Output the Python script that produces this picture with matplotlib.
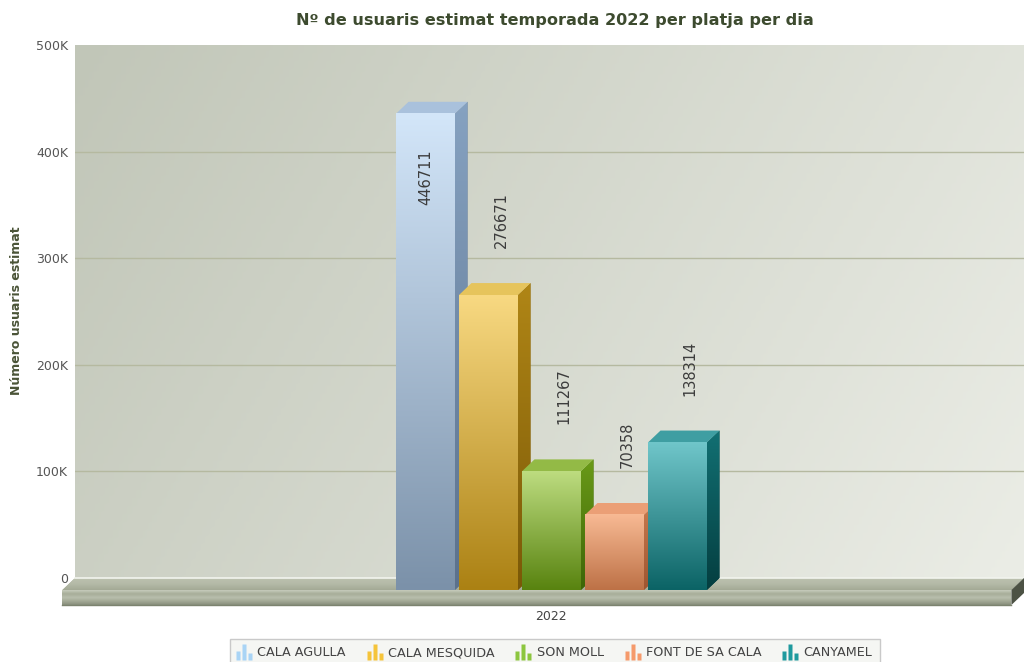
import numpy as np
import matplotlib
matplotlib.use("Agg")
import matplotlib.pyplot as plt
from matplotlib.colors import LinearSegmentedColormap
from matplotlib.patches import Polygon
from matplotlib.path import Path
from matplotlib.lines import Line2D
from matplotlib.transforms import Affine2D

# ---- data ----
title = "Nº de usuaris estimat temporada 2022 per platja per dia"
ylabel = "Número usuaris estimat"
group = "2022"
platges = ["CALA AGULLA", "CALA MESQUIDA", "SON MOLL", "FONT DE SA CALA", "CANYAMEL"]
usuaris = [446711, 276671, 111267, 70358, 138314]
yticks = [0, 100000, 200000, 300000, 400000, 500000]
yticklabels = ["0", "100K", "200K", "300K", "400K", "500K"]

# colours per series
front_top = ["#d3e6f9", "#f8d982", "#bddc80", "#f8ba94", "#70c6ca"]
front_bot = ["#7b91a9", "#ab8113", "#58830f", "#bd7146", "#0b6365"]
side_top = ["#86a2c1", "#b08616", "#6a9a18", "#c97b4f", "#127073"]
side_bot = ["#5b718c", "#7a5807", "#3d6507", "#9d5530", "#043e40"]
top_face = ["#a9c1dc", "#e6c45c", "#93ba46", "#eb9f76", "#3f9ea2"]
icon_col = ["#a9d4f5", "#f5c43a", "#8cc63f", "#f59a6b", "#1e9a9e"]

fig = plt.figure(figsize=(10.24, 6.62), dpi=100)
fig.patch.set_facecolor("white")

# back wall axes (pixels 75..1024 x, 45..578 y)
ax = fig.add_axes([75 / 1024, (662 - 578) / 662, (1024 - 75) / 1024, 533 / 662])
xmin, xmax = -7.762, 7.302
ymax = 500000
upp = ymax / 533.0          # y units per pixel
dx = 0.2                    # depth in x (bar slots)
dy = 12 * upp               # depth in y
w = 0.936


def grad_image(extent, c1, c2, clip=None, z=1, colors=None):
    cmap = LinearSegmentedColormap.from_list("g", colors if colors else [c2, c1])
    g = np.linspace(0, 1, 256).reshape(-1, 1)
    im = ax.imshow(g, extent=extent, origin="lower", aspect="auto",
                   cmap=cmap, zorder=z, interpolation="bicubic")
    if clip is not None:
        im.set_clip_path(clip)
        im.set_clip_box(fig.bbox)
    else:
        im.set_clip_on(False)
    return im


# back wall gradient
xx, yy = np.meshgrid(np.linspace(0, 1, 200), np.linspace(0, 1, 200))
t = 0.75 * xx + 0.25 * (1 - yy)
wall = LinearSegmentedColormap.from_list("wall", ["#c1c6b8", "#ebede6"])
ax.imshow(t, extent=[xmin, xmax, 0, ymax], origin="lower", aspect="auto",
          cmap=wall, zorder=0)

for v in yticks[1:-1]:
    ax.axhline(v, color="#b5b9a0", lw=1.0, zorder=0.5)

# floor
fb = -27 * upp
floor_top = Polygon([(xmin, 0), (xmax, 0), (xmax - dx, -dy), (xmin - dx, -dy)],
                    closed=True, facecolor="#aeb4a2", edgecolor="none",
                    zorder=2, clip_on=False)
ax.add_patch(floor_top)
grad_image([xmin - dx, xmax, -dy, 0], None, None, clip=floor_top, z=2.05,
           colors=["#a3a995", "#b4baa7", "#bcc1af"])
ax.plot([xmin, xmax], [0, 0], color="#f2f4ee", lw=1.2, zorder=2.1, clip_on=False)
grad_image([xmin - dx, xmax - dx, fb, -dy], None, None, z=2,
           colors=["#868d7a", "#a2a894", "#b9bfad", "#a6ac98", "#c8cdbd"])
ax.add_patch(Polygon([(xmax - dx, -dy), (xmax, 0), (xmax, fb + dy), (xmax - dx, fb)],
                     closed=True, facecolor="#4c5244", edgecolor="none",
                     zorder=2.2, clip_on=False))
ax.plot([xmin - dx, xmax - dx], [fb, fb], color="#7c836f", lw=1.0,
        zorder=2.3, clip_on=False)

# bars
centers = [i - 2 for i in range(len(usuaris))]
fronts = ax.bar([c - dx for c in centers], usuaris, width=w,
                bottom=-dy, color="none", edgecolor="none", clip_on=False)
for i, (c, v, rect) in enumerate(zip(centers, usuaris, fronts)):
    z = 3 + i
    l, r = c - w / 2, c + w / 2
    side = Polygon([(r - dx, -dy), (r - dx, v - dy), (r, v), (r, 0)], closed=True,
                   facecolor=side_bot[i], edgecolor="none", zorder=z, clip_on=False)
    ax.add_patch(side)
    grad_image([r - dx, r, -dy, v], side_top[i], side_bot[i], clip=side, z=z + 0.1)
    top = Polygon([(l - dx, v - dy), (r - dx, v - dy), (r, v), (l, v)], closed=True,
                  facecolor=top_face[i], edgecolor="none", zorder=z + 0.2,
                  clip_on=False)
    ax.add_patch(top)
    grad_image([l - dx, r - dx, -dy, v - dy], front_top[i], front_bot[i], z=z + 0.3)
    rect.set_zorder(z + 0.4)

    # value labels
    above = v + 35 * upp
    if above + 55 * upp < ymax:
        ax.text(c, above, str(v), rotation=90, ha="center", va="bottom",
                fontsize=10.5, color="#3c3c3c", zorder=10, clip_on=False)
    else:
        ax.text(c - dx, v - dy - 36 * upp, str(v), rotation=90, ha="center",
                va="top", fontsize=10.5, color="#3c3c3c", zorder=10)

ax.set_xlim(xmin, xmax)
ax.set_ylim(0, ymax)
for s in ax.spines.values():
    s.set_visible(False)
ax.set_yticks(yticks, yticklabels)
ax.set_xticks([-dx], [group])
ax.tick_params(axis="y", length=0, pad=5, labelsize=9, labelcolor="#555555")
ax.tick_params(axis="x", length=0, pad=23, labelsize=9, labelcolor="#444444")

fig.text(555 / 1024, 1 - 20 / 662, title, ha="center", va="center",
         fontsize=11.6, fontweight="bold", color="#3d4b2f")
fig.text(17 / 1024, 1 - 311 / 662, ylabel, ha="center", va="center",
         rotation=90, fontsize=9, fontweight="bold", color="#4a5437")

# legend with little bar-chart icons (centred on the origin)
icon = Path.make_compound_path(
    Path.unit_rectangle().transformed(Affine2D().scale(0.24, 0.55).translate(-0.45, -0.5)),
    Path.unit_rectangle().transformed(Affine2D().scale(0.24, 1.0).translate(-0.12, -0.5)),
    Path.unit_rectangle().transformed(Affine2D().scale(0.24, 0.42).translate(0.21, -0.5)),
)
handles = [Line2D([], [], linestyle="none", marker=icon, markersize=12,
                  markerfacecolor=c, markeredgecolor="none") for c in icon_col]
leg = fig.legend(handles, platges, loc="upper center",
                 bbox_to_anchor=(555 / 1024, 1 - 633 / 662), ncol=5,
                 fontsize=9.2, handlelength=1.0, handletextpad=0.55,
                 columnspacing=1.75, borderpad=0.55, fancybox=False,
                 edgecolor="#c9c9c9", facecolor="#f5f6f3", framealpha=1)
for txt in leg.get_texts():
    txt.set_color("#444444")

fig.savefig("out.png", dpi=100, facecolor="white")
